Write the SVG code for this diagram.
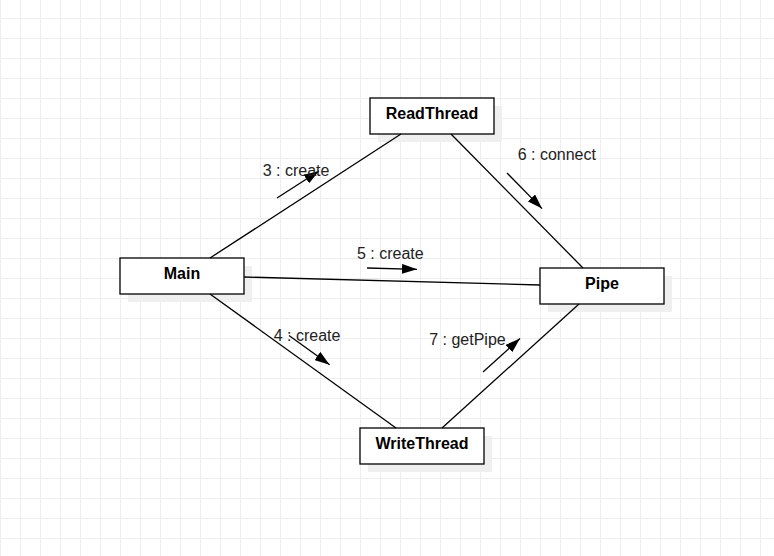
<svg xmlns="http://www.w3.org/2000/svg" width="774" height="556" viewBox="0 0 774 556">
  <defs>
    <pattern id="grid" x="0" y="-2" width="20" height="20" patternUnits="userSpaceOnUse">
      <path d="M0 0.5 H20 M0.5 0 V20" fill="none" stroke="#eeeeee" stroke-width="1"/>
    </pattern>
    <marker id="block" viewBox="0 0 15 10" refX="15" refY="5" markerWidth="15" markerHeight="10" markerUnits="userSpaceOnUse" orient="auto">
      <path d="M0,0 L15,5 L0,10 z" fill="#000"/>
    </marker>
  </defs>
  <style>
    .shadow { fill: #efefef; stroke: none; }
    .box { fill: #ffffff; stroke: #000000; stroke-width: 1.3; }
    .name { font-family: "Liberation Sans", Arial, sans-serif; font-size: 16px; font-weight: bold; fill: #000000; text-anchor: middle; }
    .edge { fill: none; stroke: #000000; stroke-width: 1.3; }
    .msg { fill: none; stroke: #000000; stroke-width: 1.3; marker-end: url(#block); }
    .label { font-family: "Liberation Sans", Arial, sans-serif; font-size: 16px; fill: #222222; }
  </style>
  <rect width="774" height="556" fill="#ffffff"/>
  <rect width="774" height="556" fill="url(#grid)"/>

  <g id="node-readthread">
    <rect class="shadow" x="378" y="106" width="124" height="36"/>
    <rect class="box" x="370" y="98" width="124" height="36"/>
    <text class="name" x="432" y="119.3">ReadThread</text>
  </g>
  <g id="node-main">
    <rect class="shadow" x="128" y="266" width="124" height="36"/>
    <rect class="box" x="120" y="258" width="124" height="36"/>
    <text class="name" x="182" y="279">Main</text>
  </g>
  <g id="node-pipe">
    <rect class="shadow" x="548" y="276" width="124" height="36"/>
    <rect class="box" x="540" y="268" width="124" height="36"/>
    <text class="name" x="602" y="289">Pipe</text>
  </g>
  <g id="node-writethread">
    <rect class="shadow" x="368" y="436" width="124" height="36"/>
    <rect class="box" x="360" y="428" width="124" height="36"/>
    <text class="name" x="422" y="449">WriteThread</text>
  </g>

  <g id="connectors">
    <line class="edge" x1="210" y1="258" x2="401" y2="134"/>
    <line class="edge" x1="244" y1="277" x2="540" y2="285"/>
    <line class="edge" x1="210" y1="294" x2="396" y2="428"/>
    <line class="edge" x1="451" y1="134" x2="583" y2="268"/>
    <line class="edge" x1="579" y1="304" x2="442" y2="428"/>

    <line class="msg" x1="277" y1="198" x2="319" y2="171"/>
    <text class="label" x="262.7" y="176">3 : create</text>

    <line class="msg" x1="367" y1="268" x2="417" y2="269.3"/>
    <text class="label" x="357" y="258.5">5 : create</text>

    <line class="msg" x1="507" y1="173" x2="542" y2="208.6"/>
    <text class="label" x="517.7" y="160">6 : connect</text>

    <line class="msg" x1="289" y1="335.5" x2="329.6" y2="364.7"/>
    <text class="label" x="273.7" y="340.5">4 : create</text>

    <line class="msg" x1="483" y1="372" x2="520" y2="338.5"/>
    <text class="label" x="429.2" y="345.3">7 : getPipe</text>
  </g>
</svg>
